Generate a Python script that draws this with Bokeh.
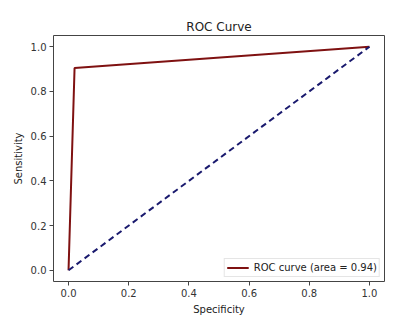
from bokeh.plotting import figure
from bokeh.embed import file_html
from bokeh.resources import INLINE
from bokeh.models import Range1d, FixedTicker, PrintfTickFormatter

fpr = [0.0, 0.02, 1.0]
tpr = [0.0, 0.905, 1.0]
diag_x = [0.0, 1.0]
diag_y = [0.0, 1.0]
ticks = [0.0, 0.2, 0.4, 0.6, 0.8, 1.0]
auc = 0.94

p = figure(width=409, height=324, output_backend="svg", toolbar_location=None,
           x_range=Range1d(-0.05, 1.05), y_range=Range1d(-0.05, 1.05),
           title="ROC Curve", min_border_left=53, min_border_right=25,
           min_border_top=35, min_border_bottom=43)
p.title.align = "center"
p.title.text_font = "DejaVu Sans"
p.title.text_font_style = "normal"
p.title.text_font_size = "12px"
p.title.text_color = "#222222"
p.title.standoff = 4

p.xgrid.visible = False
p.ygrid.visible = False
p.outline_line_color = "#444444"
p.outline_line_width = 1

for ax in (p.xaxis, p.yaxis):
    ax.ticker = FixedTicker(ticks=ticks)
    ax.formatter = PrintfTickFormatter(format="%.1f")
    ax.major_label_text_font = "DejaVu Sans"
    ax.major_label_text_font_size = "10px"
    ax.major_label_text_color = "#333333"
    ax.axis_label_text_font = "DejaVu Sans"
    ax.axis_label_text_font_size = "10px"
    ax.axis_label_text_font_style = "normal"
    ax.axis_label_text_color = "#222222"
    ax.axis_line_color = None
    ax.major_tick_line_color = "#444444"
    ax.major_tick_in = 0
    ax.major_tick_out = 4
    ax.minor_tick_line_color = None
    ax.axis_label_standoff = 4
    ax.major_label_standoff = 3

p.xaxis.axis_label = "Specificity"
p.yaxis.axis_label = "Sensitivity"

p.line(fpr, tpr, line_color="#7f1111", line_width=2,
       legend_label="ROC curve (area = %0.2f)" % auc)
p.line(diag_x, diag_y, line_color="#1a1a6e", line_width=2, line_dash="6 4")

p.legend.location = "bottom_right"
p.legend.label_text_font = "DejaVu Sans"
p.legend.label_text_font_size = "10px"
p.legend.label_text_color = "#222222"
p.legend.border_line_color = "#cccccc"
p.legend.padding = 2
p.legend.margin = 4
p.legend.spacing = 0
p.legend.glyph_width = 22
p.legend.glyph_height = 13
p.legend.label_height = 13
p.legend.label_standoff = 5

open("out.html", "w").write(file_html(p, INLINE))
